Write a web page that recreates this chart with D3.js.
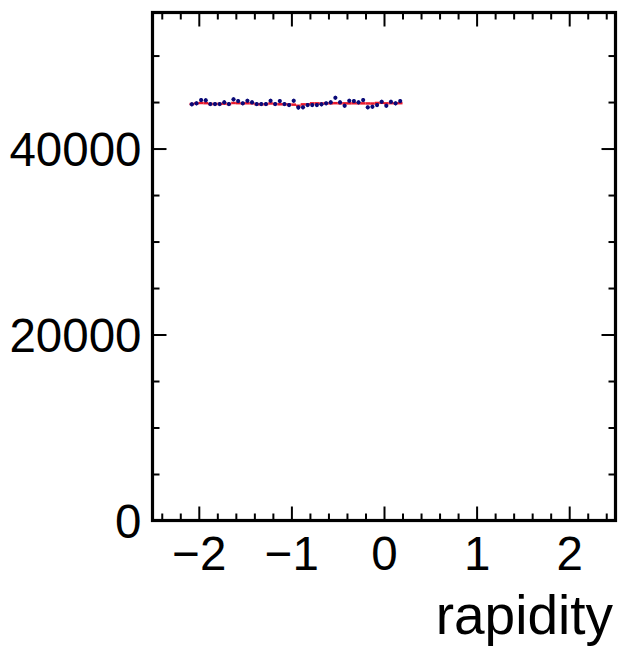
<!DOCTYPE html>
<html>
<head>
<meta charset="utf-8">
<script src="https://cdn.jsdelivr.net/npm/d3@7"></script>
<style>
  html, body { margin: 0; padding: 0; background: #fff; }
  svg { display: block; }
  text { font-family: "Liberation Sans", Arial, Helvetica, sans-serif; fill: #000; }
</style>
</head>
<body>
<svg id="chart" width="620" height="656"></svg>
<script>
// ---- data ----
const binCenters = [-2.075,-2.025,-1.975,-1.925,-1.875,-1.825,-1.775,-1.725,-1.675,-1.625,
  -1.575,-1.525,-1.475,-1.425,-1.375,-1.325,-1.275,-1.225,-1.175,-1.125,
  -1.075,-1.025,-0.975,-0.925,-0.875,-0.825,-0.775,-0.725,-0.675,-0.625,
  -0.575,-0.525,-0.475,-0.425,-0.375,-0.325,-0.275,-0.225,-0.175,-0.125,
  -0.075,-0.025,0.025,0.075,0.125,0.175];
const binWidth = 0.05;
const blueValues = [44753,44860,45215,45183,44785,44785,44785,44968,44785,45290,
  45108,44860,45140,44968,44785,44785,44785,45140,44785,45108,
  44785,44678,45140,44409,44430,44678,44678,44678,44753,44860,
  44968,45462,44968,44603,45140,45108,44968,45215,44430,44495,
  44678,45032,44603,45032,44860,45108];
const blueErrors = [212,212,213,213,212,212,212,212,212,213,
  212,212,212,212,212,212,212,212,212,212,
  212,211,212,211,211,211,211,211,212,212,
  212,213,212,211,212,212,212,213,211,211,
  211,212,211,212,212,212];
const redValues = [44780,44860,44900,44880,44790,44790,44800,44830,44780,44900,
  44880,44860,44870,44860,44760,44760,44770,44850,44790,44760,
  44760,44740,44720,44600,44750,44760,44860,44860,44840,44860,
  44860,44880,44860,44860,44860,44870,44860,44860,44850,44840,
  44900,44920,44860,44880,44870,44880];
const xMajorTicks = [-2,-1,0,1,2];
const xMinorTicks = [-2.4,-2.2,-1.8,-1.6,-1.4,-1.2,-0.8,-0.6,-0.4,-0.2,0.2,0.4,0.6,0.8,1.2,1.4,1.6,1.8,2.2,2.4];
const yMajorTicks = [0,20000,40000];
const yMinorTicks = [5000,10000,15000,25000,30000,35000,45000,50000];
const xLabel = "rapidity";

(function () {
const pL = 152.5, pR = 615.5, pT = 12.5, pB = 520.5;
const svg = d3.select("#chart");
const x = d3.scaleLinear().domain([-2.5, 2.5]).range([pL, pR]);
const y = d3.scaleLinear().domain([0, 54630]).range([pB, pT]);

const fmtX = d => (d < 0 ? "\u2212" + Math.abs(d) : String(d));

function drawAxis(axisGen, transform) {
  const g = svg.append("g").attr("transform", transform).call(axisGen);
  g.select(".domain").remove();
  g.selectAll(".tick line").attr("stroke", "#000").attr("stroke-width", 2);
  return g;
}
const gb = drawAxis(d3.axisBottom(x).tickValues(xMajorTicks).tickSize(-14).tickFormat(fmtX),
  `translate(0,${pB})`);
gb.selectAll("text").attr("font-size", 47.5).attr("dy", "0.71em").attr("y", 16);
drawAxis(d3.axisBottom(x).tickValues(xMinorTicks).tickSize(-7).tickFormat(""), `translate(0,${pB})`);
drawAxis(d3.axisTop(x).tickValues(xMajorTicks).tickSize(-14).tickFormat(""), `translate(0,${pT})`);
drawAxis(d3.axisTop(x).tickValues(xMinorTicks).tickSize(-7).tickFormat(""), `translate(0,${pT})`);
const gl = drawAxis(d3.axisLeft(y).tickValues(yMajorTicks).tickSize(-14).tickFormat(d3.format("d")),
  `translate(${pL},0)`);
gl.selectAll("text").attr("font-size", 47.5).attr("x", -11).attr("dy", "0.36em");
drawAxis(d3.axisLeft(y).tickValues(yMinorTicks).tickSize(-7).tickFormat(""), `translate(${pL},0)`);
drawAxis(d3.axisRight(y).tickValues(yMajorTicks).tickSize(-14).tickFormat(""), `translate(${pR},0)`);
drawAxis(d3.axisRight(y).tickValues(yMinorTicks).tickSize(-7).tickFormat(""), `translate(${pR},0)`);

const data = binCenters.map((c, i) => ({c, b: blueValues[i], e: blueErrors[i], r: redValues[i]}));
svg.append("g").selectAll("line").data(data).join("line")
  .attr("x1", d => x(d.c - binWidth / 2)).attr("x2", d => x(d.c + binWidth / 2))
  .attr("y1", d => y(d.r)).attr("y2", d => y(d.r))
  .attr("stroke", "#e8192c").attr("stroke-width", 2.5);
svg.append("g").selectAll("line").data(data).join("line")
  .attr("x1", d => x(d.c)).attr("x2", d => x(d.c))
  .attr("y1", d => y(d.b - d.e)).attr("y2", d => y(d.b + d.e))
  .attr("stroke", "#0a0a78").attr("stroke-width", 1.3);
svg.append("g").selectAll("circle").data(data).join("circle")
  .attr("cx", d => x(d.c)).attr("cy", d => y(d.b)).attr("r", 2.1)
  .attr("fill", "#0a0a78");

svg.append("rect").attr("x", pL).attr("y", pT).attr("width", pR - pL).attr("height", pB - pT)
  .attr("fill", "none").attr("stroke", "#000").attr("stroke-width", 3.2);

svg.append("text").attr("x", 613).attr("y", 634).attr("text-anchor", "end")
  .attr("font-size", 55).text(xLabel);
})();
</script>
</body>
</html>
